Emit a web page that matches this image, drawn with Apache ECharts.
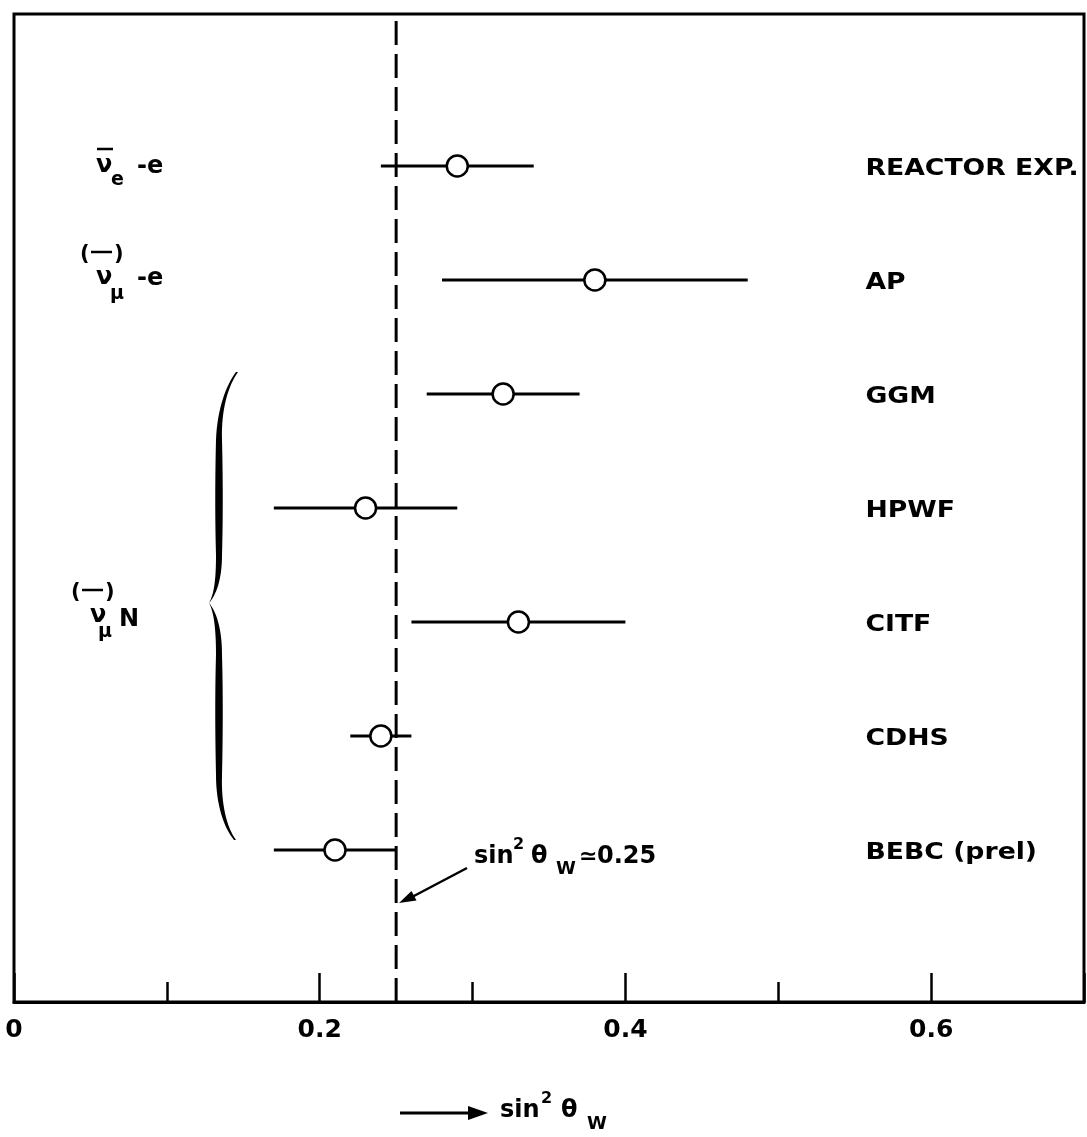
<!DOCTYPE html>
<html><head><meta charset="utf-8">
<script src="https://cdn.jsdelivr.net/npm/echarts@6/dist/echarts.min.js"></script>
<style>html,body{margin:0;padding:0;background:#fff}#c{width:1087px;height:1137px}</style>
</head><body><div id="c"></div>
<script>
// ---- data ----
const experiments = ['REACTOR EXP.', 'AP', 'GGM', 'HPWF', 'CITF', 'CDHS', 'BEBC (prel)'];
const sin2Central = [0.29, 0.38, 0.32, 0.23, 0.33, 0.24, 0.21];
const sin2Low     = [0.24, 0.28, 0.27, 0.17, 0.26, 0.22, 0.17];
const sin2High    = [0.34, 0.48, 0.37, 0.29, 0.40, 0.26, 0.25];
const referenceValue = 0.25;            // sin^2 theta_W = 0.25 (dashed line)
const xTickLabels = ['0', '0.2', '0.4', '0.6'];

// ---- layout ----
const FONT = '"DejaVu Sans", sans-serif';
const Y_MIN = -1 / 3, Y_MAX = 25 / 3;
const LABEL_X = 0.557;
const rows = experiments.map((n, i) => [sin2Central[i], sin2Low[i], sin2High[i], experiments.length - i]);

function t(x, y, text, size, extra) {
  return Object.assign({
    type: 'text', x: x, y: y,
    style: { text: text, fontSize: size, fontWeight: 'bold', fontFamily: FONT, fill: '#000',
             align: 'left', verticalAlign: 'middle' }
  }, extra || {});
}
function ln(x1, y1, x2, y2, w) {
  return { type: 'line', shape: { x1, y1, x2, y2 }, style: { stroke: '#000', lineWidth: w || 3 } };
}
function poly(points) {
  return { type: 'polygon', shape: { points: points }, style: { fill: '#000' } };
}
// sample a chain of cubic bezier segments into polygon points
function bez(pts) {
  const out = [pts[0]];
  for (let k = 0; k + 3 < pts.length; k += 3) {
    const p0 = pts[k], c1 = pts[k + 1], c2 = pts[k + 2], p1 = pts[k + 3];
    for (let s = 1; s <= 16; s++) {
      const u = s / 16, v = 1 - u;
      out.push([
        v * v * v * p0[0] + 3 * v * v * u * c1[0] + 3 * v * u * u * c2[0] + u * u * u * p1[0],
        v * v * v * p0[1] + 3 * v * v * u * c1[1] + 3 * v * u * u * c2[1] + u * u * u * p1[1]
      ]);
    }
  }
  return out;
}
const braceTopPts = bez([[236, 372], [226, 385], [217, 410], [216, 440],
                         [215, 480], [215, 520], [216, 555],
                         [216, 580], [214, 594], [209, 603],
                         [216, 595], [222, 580], [222, 555],
                         [223, 520], [223, 480], [222, 440],
                         [221, 410], [228, 386], [238, 372]]);
const braceBotPts = bez([[234, 840], [224, 828], [216, 805], [216, 775],
                         [215, 730], [215, 690], [216, 655],
                         [216, 630], [214, 612], [209, 603],
                         [216, 611], [222, 628], [222, 655],
                         [223, 690], [223, 730], [222, 775],
                         [221, 805], [227, 828], [236, 840]]);

const graphics = [
  // left group labels
  ln(97, 149, 113, 149, 2.5),
  t(96, 166, 'ν', 24),
  t(111, 180, 'e', 19),
  t(137, 167, '-e', 24),

  t(80, 255, '(', 21), t(114, 255, ')', 21), ln(91, 252, 112, 252, 2.5),
  t(96, 278, 'ν', 24),
  t(110, 294, 'μ', 19),
  t(137, 279, '-e', 24),

  t(71, 593, '(', 21), t(105, 593, ')', 21), ln(82, 590, 103, 590, 2.5),
  t(90, 616, 'ν', 24),
  t(98, 632, 'μ', 19),
  t(119, 620, 'N', 24),

  // brace
  poly(braceTopPts),
  poly(braceBotPts),

  // annotation sin^2 theta_W = 0.25 with arrow
  t(474, 857, 'sin', 24),
  t(513, 845, '2', 16),
  t(531, 857, 'θ', 24),
  t(556, 869, 'W', 18),
  t(579, 857, '≃', 22),
  t(597, 857, '0.25', 24),
  ln(467, 868, 412, 897, 2.5),
  poly([[399, 903], [416.5, 900.5], [411.5, 891]]),

  // axis title
  ln(400, 1113, 472, 1113, 3),
  poly([[488, 1113], [468, 1106], [468, 1120]]),
  t(500, 1111, 'sin', 24),
  t(541, 1099, '2', 16),
  t(561, 1111, 'θ', 24),
  t(587, 1124, 'W', 18)
];

const chart = echarts.init(document.getElementById('c'), null, { renderer: 'canvas' });
chart.setOption({
  backgroundColor: '#fff',
  animation: false,
  grid: { left: 14, right: 3, top: 14, bottom: 135, show: true, borderColor: '#000', borderWidth: 3,
          backgroundColor: 'transparent' },
  xAxis: [
    {
      type: 'value', min: 0, max: 0.7, interval: 0.2, position: 'bottom',
      axisLine: { show: true, onZero: false, lineStyle: { color: '#000', width: 3 } },
      axisTick: { show: true, inside: true, length: 29, lineStyle: { color: '#000', width: 2.5 } },
      splitLine: { show: false },
      axisLabel: {
        color: '#000', fontSize: 25, fontWeight: 'bold', fontFamily: FONT, margin: 16,
        formatter: function (v) {
          const s = xTickLabels.find(l => Math.abs(parseFloat(l) - v) < 1e-9);
          return s || '';
        }
      }
    },
    {
      type: 'value', min: 0, max: 0.7, interval: 0.1, position: 'bottom', offset: 0,
      axisLine: { show: false, onZero: false },
      axisTick: { show: true, inside: true, length: 20, lineStyle: { color: '#000', width: 2.5 } },
      axisLabel: { show: false },
      splitLine: { show: false }
    }
  ],
  yAxis: { type: 'value', min: Y_MIN, max: Y_MAX, show: false },
  series: [
    {
      type: 'line', silent: true, symbol: 'none', z: 1,
      data: [[referenceValue, Y_MIN], [referenceValue, Y_MAX]],
      lineStyle: { color: '#000', width: 3, type: [24, 9] }
    },
    {
      type: 'custom', z: 3,
      data: rows,
      encode: { x: [0, 1, 2], y: 3 },
      renderItem: function (params, api) {
        const row = api.value(3);
        const c = api.coord([api.value(0), row]);
        const a = api.coord([api.value(1), row]);
        const b = api.coord([api.value(2), row]);
        const l = api.coord([LABEL_X, row]);
        return {
          type: 'group',
          children: [
            { type: 'line', shape: { x1: a[0], y1: a[1], x2: b[0], y2: b[1] },
              style: { stroke: '#000', lineWidth: 3 } },
            { type: 'circle', shape: { cx: c[0], cy: c[1], r: 10.5 },
              style: { fill: '#fff', stroke: '#000', lineWidth: 2.5 } },
            { type: 'text', x: l[0], y: l[1] + 3, scaleX: 1.16,
              style: { text: experiments[params.dataIndex], fontSize: 23, fontWeight: 'bold',
                       fontFamily: FONT, fill: '#000', align: 'left', verticalAlign: 'middle' } }
          ]
        };
      }
    }
  ],
  graphic: { elements: graphics }
});
</script>
</body></html>
